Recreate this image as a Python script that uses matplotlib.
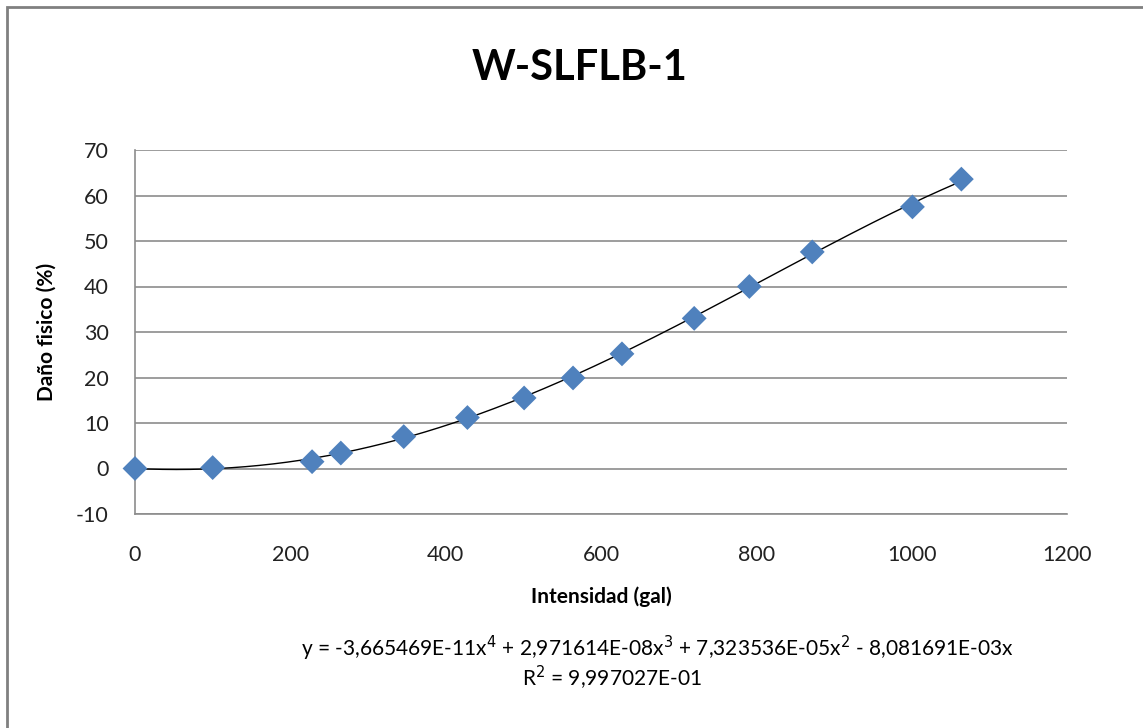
import numpy as np
import matplotlib.pyplot as plt
from matplotlib.patches import Rectangle

plt.rcParams["font.family"] = ["Lato", "DejaVu Sans"]
plt.rcParams["axes.unicode_minus"] = False

# data
intensidad = [0, 100, 228, 265, 346, 428, 501, 564, 627, 720, 791, 872, 1001, 1064]
dano = [0.0, 0.2, 1.5, 3.4, 7.0, 11.2, 15.5, 19.9, 25.2, 33.0, 40.0, 47.6, 57.5, 63.6]

# trendline coefficients as printed on the chart (x^4 .. x^0)
coefs = [-3.665469e-11, 2.971614e-08, 7.323536e-05, -8.081691e-03, 0.0]
eq_text = ("y = -3,665469E-11x$^{4}$ + 2,971614E-08x$^{3}$ + "
           "7,323536E-05x$^{2}$ - 8,081691E-03x")
r2_text = "R$^{2}$ = 9,997027E-01"

fig = plt.figure(figsize=(11.43, 7.28), dpi=100)
ax = fig.add_axes([135 / 1143, 1 - 514 / 728, 932 / 1143, 364 / 728])

grid_col = "#8c8c8c"
ax.set_xlim(0, 1200)
ax.set_ylim(-10, 70)
ax.set_xticks(range(0, 1201, 200))
ax.set_yticks(range(-10, 71, 10))
ax.yaxis.grid(True, color=grid_col, linewidth=1.2)
ax.set_axisbelow(True)
for s in ["top", "right"]:
    ax.spines[s].set_visible(False)
for s in ["left", "bottom"]:
    ax.spines[s].set_color(grid_col)
    ax.spines[s].set_linewidth(1.2)
ax.tick_params(length=0, labelsize=15.5, colors="#222222")
ax.tick_params(axis="y", pad=19)
ax.tick_params(axis="x", pad=22)

xs = np.linspace(0, max(intensidad), 300)
ax.plot(xs, np.polyval(coefs, xs), color="black", linewidth=1.0, zorder=2)
ax.scatter(intensidad, dano, marker="D", s=160, color="#4f81bd",
           edgecolors="none", zorder=3, clip_on=False)

ax.set_xlabel("Intensidad (gal)", fontsize=15, fontweight="bold", labelpad=16)
ax.set_ylabel("Daño fisico (%)", fontsize=15, fontweight="bold", labelpad=14)

fig.text(580 / 1143, 1 - 68 / 728, "W-SLFLB-1", fontsize=30, fontweight="bold",
         ha="center", va="center")
fig.text(658 / 1143, 1 - 648 / 728, eq_text, fontsize=15, ha="center", va="center")
fig.text(612 / 1143, 1 - 678 / 728, r2_text, fontsize=15, ha="center", va="center")

fig.patches.append(Rectangle((7 / 1143, -0.1), 1.2, 1 - 7 / 728 + 0.1,
                             transform=fig.transFigure, fill=False,
                             edgecolor="#808080", linewidth=2))

fig.savefig("out.png", dpi=100)
